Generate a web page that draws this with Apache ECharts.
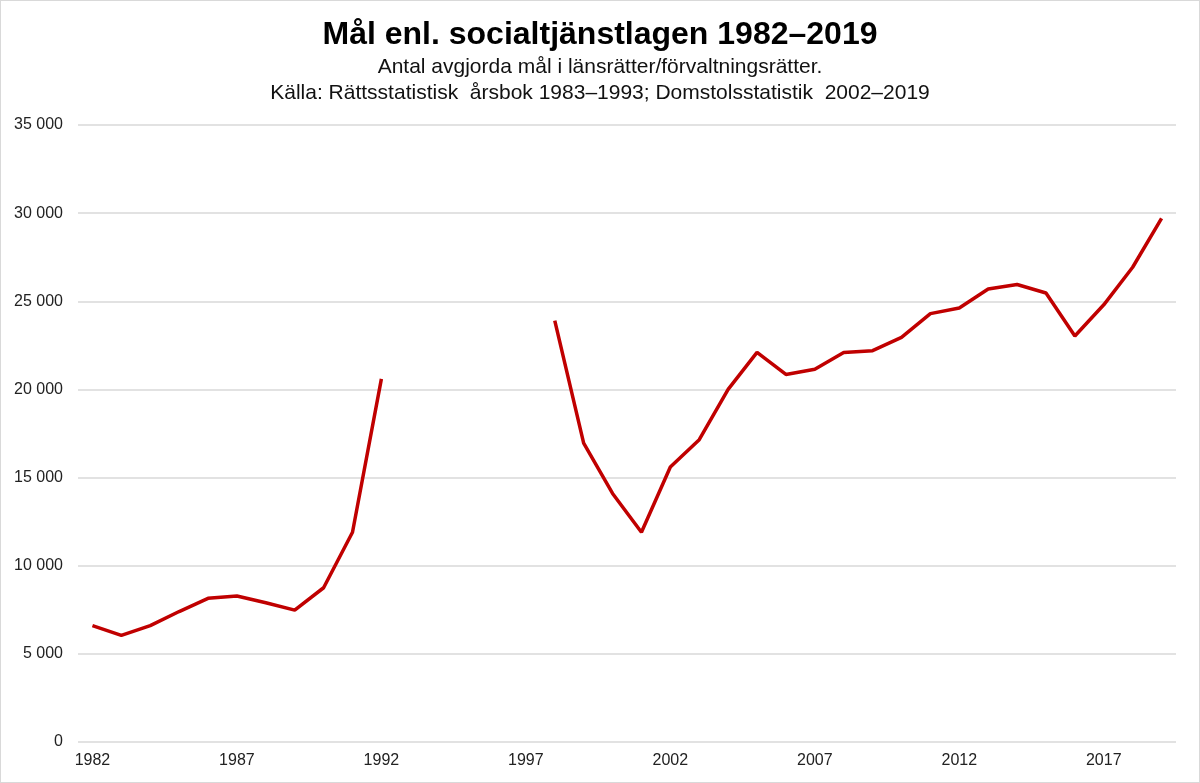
<!DOCTYPE html>
<html>
<head>
<meta charset="utf-8">
<script src="https://cdn.jsdelivr.net/npm/echarts@6/dist/echarts.min.js"></script>
<style>
html,body{margin:0;padding:0;background:#fff;}
#chart{width:1200px;height:783px;box-sizing:border-box;border:1px solid #d9d9d9;}
</style>
</head>
<body>
<div id="chart"></div>
<script>
const years = [];
for (let y = 1982; y <= 2019; y++) years.push(String(y));

const titleText = "Mål enl. socialtjänstlagen 1982–2019";
const subtitleLine1 = "Antal avgjorda mål i länsrätter/förvaltningsrätter.";
const subtitleLine2 = "Källa: Rättsstatistisk  årsbok 1983–1993; Domstolsstatistik  2002–2019";

// Values per year 1982–2019 (null = no data)
const cases = [
  6600, 6050, 6600, 7400, 8150, 8280, 7900, 7480, 8750, 11900, 20600,
  null, null, null, null, null,
  23900, 16950, 14100, 11900, 15600, 17150, 20000, 22100, 20850, 21150,
  22100, 22200, 22950, 24300, 24620, 25700, 25950, 25470, 23030, 24800, 26930, 29700
];

const yMin = 0, yMax = 35000, yStep = 5000;

const chart = echarts.init(document.getElementById('chart'), null, {renderer: 'canvas'});
chart.setOption({
  animation: false,
  backgroundColor: '#fff',
  title: [
    {text: titleText, left: 'center', top: 13,
     textStyle: {fontFamily: 'Liberation Sans', fontWeight: 'bold', fontSize: 32, color: '#000'}},
    {text: subtitleLine1, left: 'center', top: 51,
     textStyle: {fontFamily: 'Liberation Sans', fontWeight: 'normal', fontSize: 21, color: '#111'}},
    {text: subtitleLine2, left: 'center', top: 77,
     textStyle: {fontFamily: 'Liberation Sans', fontWeight: 'normal', fontSize: 21, color: '#111'}}
  ],
  grid: {left: 77, right: 23, top: 124, bottom: 40, containLabel: false},
  xAxis: {
    type: 'category',
    data: years,
    boundaryGap: true,
    axisLine: {show: false},
    axisTick: {show: false},
    axisLabel: {interval: 4, color: '#222', fontFamily: 'Liberation Sans', fontSize: 16, margin: 11},
    splitLine: {show: false}
  },
  yAxis: {
    type: 'value',
    min: yMin, max: yMax, interval: yStep,
    axisLine: {show: false},
    axisTick: {show: false},
    axisLabel: {
      color: '#222', fontFamily: 'Liberation Sans', fontSize: 16, margin: 15,
      formatter: v => String(v).replace(/\B(?=(\d{3})+(?!\d))/g, ' ')
    },
    splitLine: {lineStyle: {color: '#d9d9d9', width: 1.5}}
  },
  series: [{
    type: 'line',
    data: cases,
    connectNulls: false,
    symbol: 'none',
    lineStyle: {color: '#c00000', width: 3.5},
    itemStyle: {color: '#c00000'}
  }]
});
</script>
</body>
</html>
